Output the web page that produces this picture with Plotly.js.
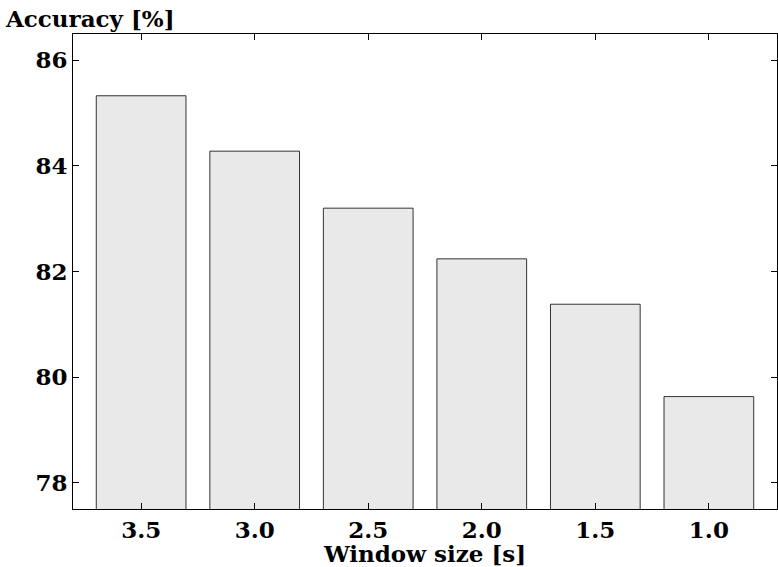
<!DOCTYPE html>
<html>
<head>
<meta charset="utf-8">
<script src="https://cdn.plot.ly/plotly-3.0.1.min.js"></script>
<style>
  html, body { margin: 0; padding: 0; background: #fff; }
  #chart { width: 778px; height: 567px; }
</style>
</head>
<body>
<div id="chart"></div>
<script>
// Window sizes (s) and accuracy
const windowSizes = ['3.5', '3.0', '2.5', '2.0', '1.5', '1.0'];
const accuracy = [85.33, 84.28, 83.20, 82.24, 81.38, 79.63];
const yTicks = [78, 80, 82, 84, 86];

const serif = 'DejaVu Serif, Liberation Serif, serif';

const trace = {
    type: 'bar',
    x: windowSizes,
    y: accuracy,
    marker: {
        color: '#e9e9e9',
        line: { color: '#333333', width: 1 }
    },
    hoverinfo: 'x+y'
};

const layout = {
    width: 778,
    height: 567,
    margin: { l: 73, r: 1, t: 34, b: 58 },
    paper_bgcolor: '#ffffff',
    plot_bgcolor: '#ffffff',
    bargap: 0.21,
    showlegend: false,
    font: { family: serif, color: '#000000' },
    xaxis: {
        type: 'category',
        range: [-0.6, 5.6],
        showline: true,
        linecolor: '#000000',
        linewidth: 1,
        mirror: 'ticks',
        ticks: 'inside',
        ticklen: 6,
        tickcolor: '#000000',
        showgrid: false,
        zeroline: false,
        tickfont: { family: serif, size: 23, weight: 'bold' },
        title: {
            text: '<b>Window size [s]</b>',
            font: { family: serif, size: 23 },
            standoff: 0
        }
    },
    yaxis: {
        range: [77.5, 86.5],
        tickvals: yTicks,
        showline: true,
        linecolor: '#000000',
        linewidth: 1,
        mirror: 'ticks',
        ticks: 'inside',
        ticklen: 6,
        tickcolor: '#000000',
        showgrid: false,
        zeroline: false,
        tickfont: { family: serif, size: 23, weight: 'bold' }
    },
    annotations: [{
        text: '<b>Accuracy [%]</b>',
        xref: 'paper', yref: 'paper',
        x: -0.1, y: 1.0,
        xanchor: 'left', yanchor: 'bottom',
        showarrow: false,
        font: { family: serif, size: 23 }
    }]
};

Plotly.newPlot('chart', [trace], layout, { displayModeBar: false, staticPlot: true });
</script>
</body>
</html>
